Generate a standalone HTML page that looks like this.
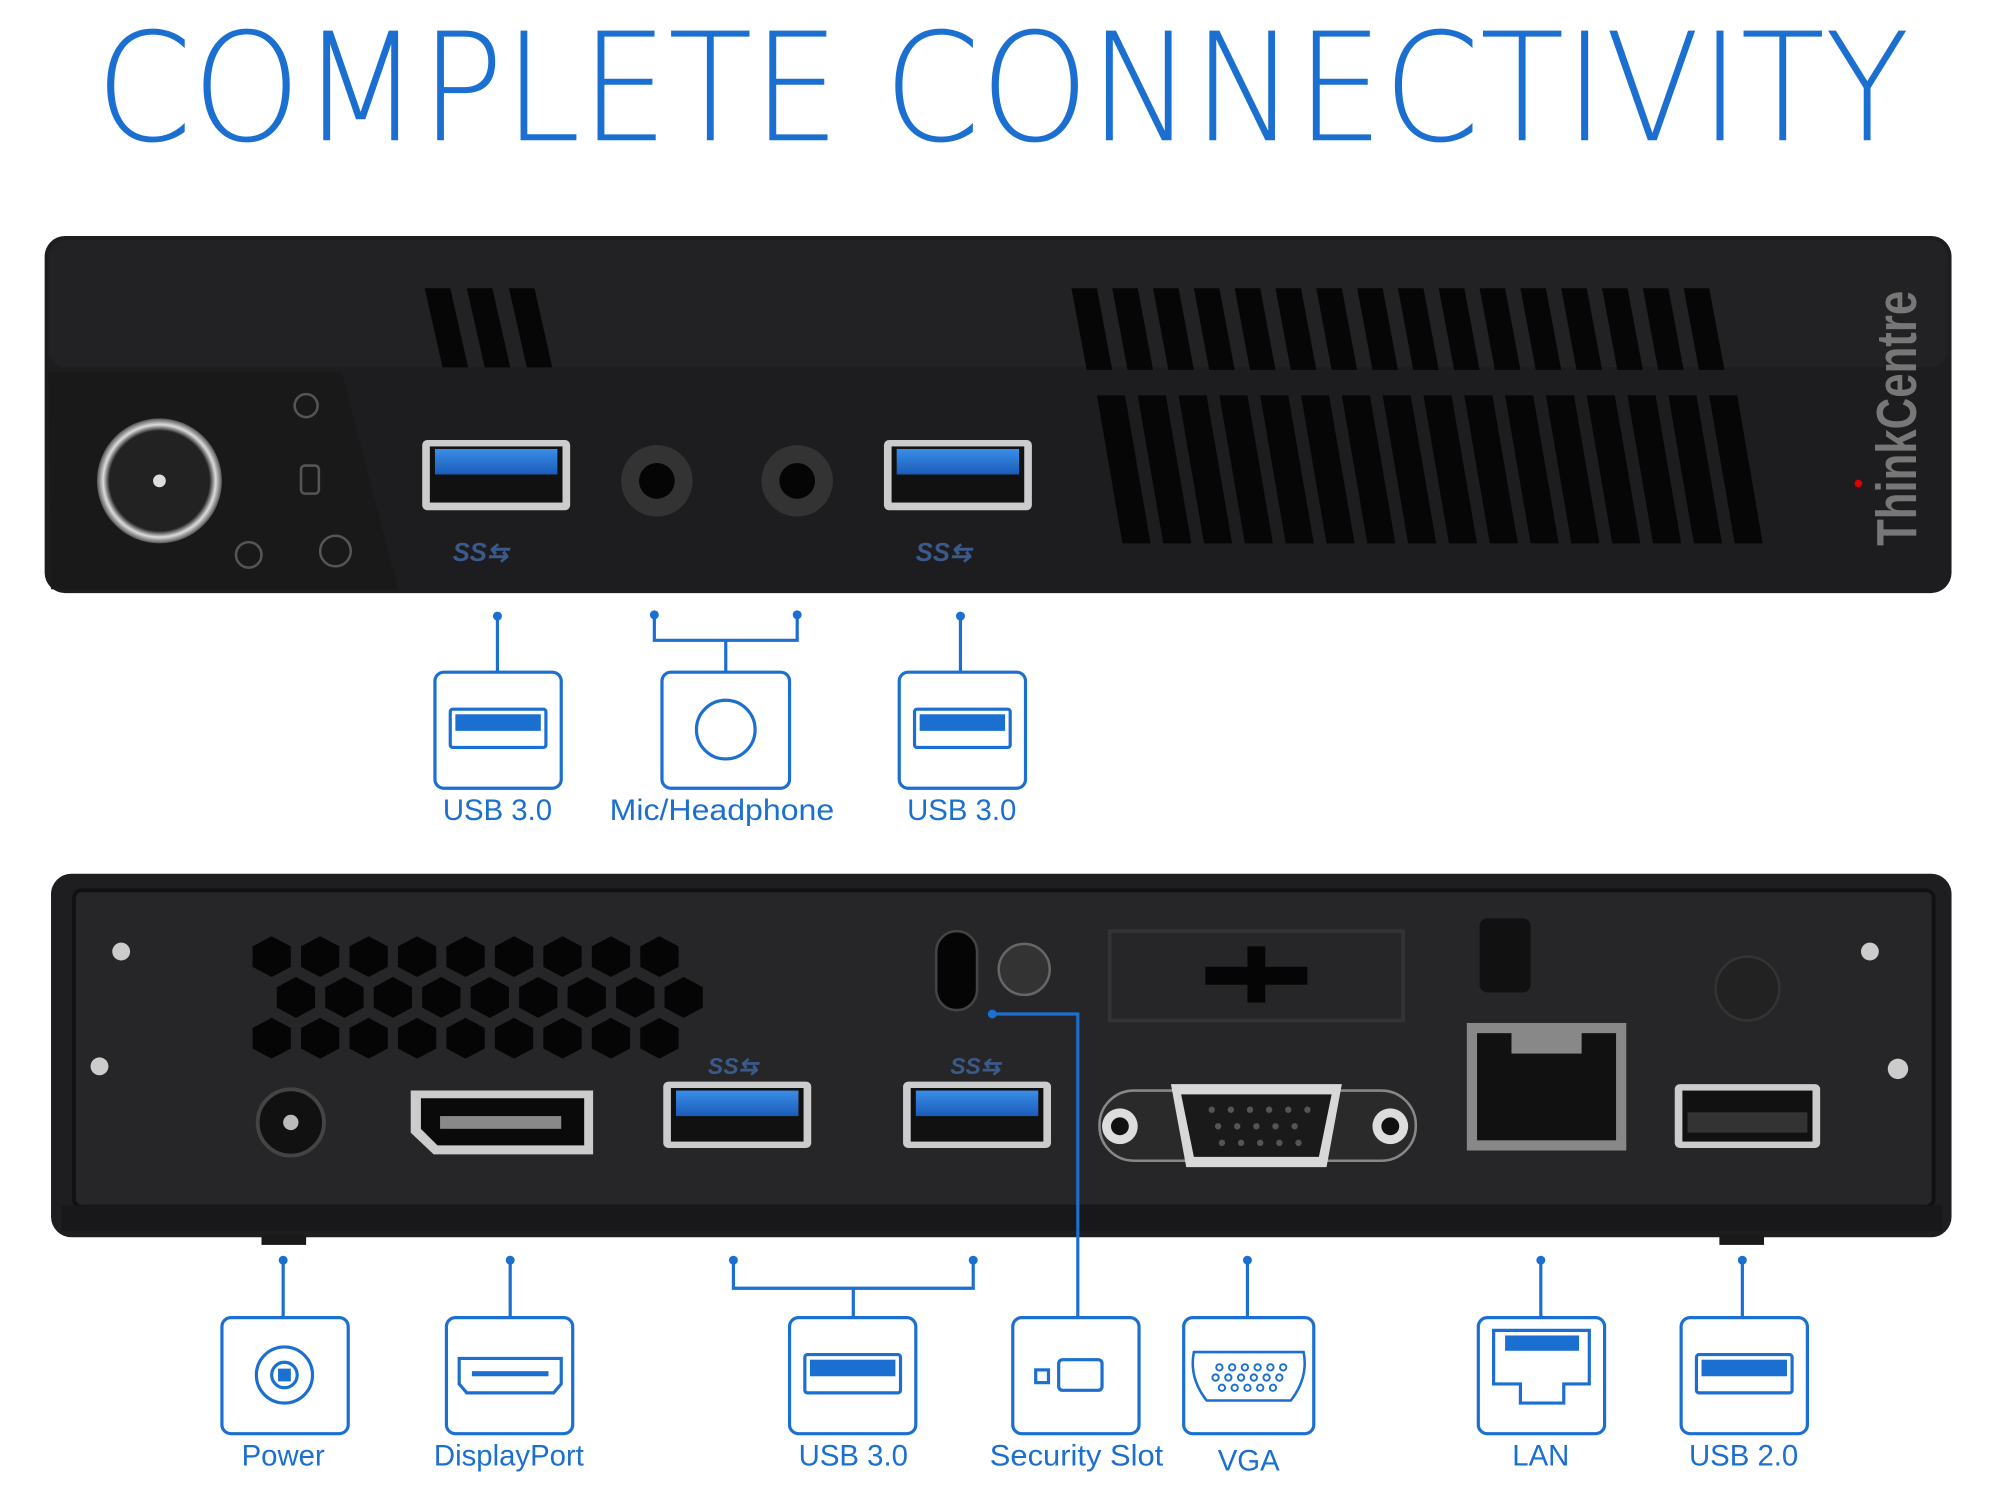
<!DOCTYPE html>
<html><head><meta charset="utf-8"><style>
html,body{margin:0;padding:0;background:#fff;}
svg{display:block;}
text{font-family:"Liberation Sans",sans-serif;}
.title{font-family:"DejaVu Sans ExtraLight","DejaVu Sans","Liberation Sans",sans-serif;font-weight:200;}
</style></head><body>
<svg width="2000" height="1500" viewBox="0 0 1568 1176" xmlns="http://www.w3.org/2000/svg">
<defs>
<linearGradient id="usbb" x1="0" y1="0" x2="0" y2="1"><stop offset="0" stop-color="#3a8ee8"/><stop offset="1" stop-color="#1a5cb8"/></linearGradient>
<radialGradient id="ring"><stop offset="0.8" stop-color="#222"/><stop offset="0.9" stop-color="#ddd"/><stop offset="1" stop-color="#555"/></radialGradient>
</defs>
<rect width="1568" height="1176" fill="#fff"/>
<text class="title" x="75" y="110" font-size="118" fill="#1a6fd0" textLength="1422" lengthAdjust="spacingAndGlyphs">COMPLETE CONNECTIVITY</text>

<!-- TOP DEVICE -->
<rect x="35" y="185" width="1495" height="280" rx="16" fill="#1d1d1f"/>
<rect x="38" y="188" width="1489" height="100" rx="14" fill="#222224"/>
<path d="M38 292 L268 292 L312 462 L40 462 Z" fill="#19191a"/>
<g fill="#060606">
<path d="M333 226h20l14 62h-20z"/><path d="M366 226h20l14 62h-20z"/><path d="M399 226h20l14 62h-20z"/>
</g>
<g fill="#060606">
<g id="r1"><path d="M840 226h20l12 64h-20z"/></g>
<use href="#r1" x="32"/><use href="#r1" x="64"/><use href="#r1" x="96"/><use href="#r1" x="128"/><use href="#r1" x="160"/><use href="#r1" x="192"/><use href="#r1" x="224"/><use href="#r1" x="256"/><use href="#r1" x="288"/><use href="#r1" x="320"/><use href="#r1" x="352"/><use href="#r1" x="384"/><use href="#r1" x="416"/><use href="#r1" x="448"/><use href="#r1" x="480"/>
<g id="r2"><path d="M860 310h22l20 116h-22z"/></g>
<use href="#r2" x="32"/><use href="#r2" x="64"/><use href="#r2" x="96"/><use href="#r2" x="128"/><use href="#r2" x="160"/><use href="#r2" x="192"/><use href="#r2" x="224"/><use href="#r2" x="256"/><use href="#r2" x="288"/><use href="#r2" x="320"/><use href="#r2" x="352"/><use href="#r2" x="384"/><use href="#r2" x="416"/><use href="#r2" x="448"/><use href="#r2" x="480"/>
</g>
<circle cx="125" cy="377" r="49" fill="url(#ring)"/>
<circle cx="125" cy="377" r="5" fill="#ddd"/>
<g stroke="#555" fill="none" stroke-width="2"><circle cx="240" cy="318" r="9"/><rect x="236" y="365" width="14" height="22" rx="3"/><circle cx="195" cy="435" r="10"/><circle cx="263" cy="432" r="12"/></g>
<g>
<rect x="331" y="345" width="116" height="55" rx="4" fill="#ccc"/><rect x="337" y="350" width="104" height="44" fill="#111"/><rect x="341" y="352" width="96" height="20" fill="url(#usbb)"/>
<rect x="693" y="345" width="116" height="55" rx="4" fill="#ccc"/><rect x="699" y="350" width="104" height="44" fill="#111"/><rect x="703" y="352" width="96" height="20" fill="url(#usbb)"/>
</g>
<circle cx="515" cy="377" r="28" fill="#333"/><circle cx="515" cy="377" r="14" fill="#050505"/>
<circle cx="625" cy="377" r="28" fill="#333"/><circle cx="625" cy="377" r="14" fill="#050505"/>
<g fill="#3a5a8a" font-size="20" font-style="italic" font-weight="bold"><text x="355" y="440">SS⇆</text><text x="718" y="440">SS⇆</text></g>
<text x="0" y="0" font-size="44" font-weight="bold" fill="#777" transform="translate(1502 428) rotate(-90)" textLength="200" lengthAdjust="spacingAndGlyphs">ThinkCentre</text>
<circle cx="1457" cy="379" r="3" fill="#d00"/>

<g stroke="#1a6fd0" stroke-width="2.5" fill="none">
<line x1="390" y1="483" x2="390" y2="527"/>
<path d="M513 482 V502 H625 V482 M569 502 V527"/>
<line x1="753" y1="483" x2="753" y2="527"/>
<rect x="341" y="527" width="99" height="91" rx="7" fill="#fff"/>
<rect x="519" y="527" width="100" height="91" rx="7" fill="#fff"/>
<rect x="705" y="527" width="99" height="91" rx="7" fill="#fff"/>
<rect x="353" y="556" width="75" height="30" rx="2"/>
<rect x="717" y="556" width="75" height="30" rx="2"/>
<circle cx="569" cy="572" r="23"/>
</g>
<g fill="#1a6fd0"><circle cx="390" cy="483" r="3.5"/><circle cx="513" cy="482" r="3.5"/><circle cx="625" cy="482" r="3.5"/><circle cx="753" cy="483" r="3.5"/>
<rect x="357" y="560" width="67" height="13"/><rect x="721" y="560" width="67" height="13"/></g>
<g fill="#1a6fd0" font-size="23" text-anchor="middle">
<text x="390" y="643">USB 3.0</text><text x="566" y="643" textLength="176" lengthAdjust="spacingAndGlyphs">Mic/Headphone</text><text x="754" y="643">USB 3.0</text>
</g>

<!-- BOTTOM DEVICE -->
<rect x="40" y="685" width="1490" height="285" rx="16" fill="#1e1e20"/>
<rect x="58" y="698" width="1458" height="248" rx="6" fill="#262628" stroke="#111" stroke-width="3"/>
<rect x="48" y="945" width="1475" height="20" fill="#18181a"/>
<g fill="#050505">
<g id="h1"><polygon points="198,742 213,734 228,742 228,758 213,766 198,758"/></g>
<use href="#h1" x="38"/><use href="#h1" x="76"/><use href="#h1" x="114"/><use href="#h1" x="152"/><use href="#h1" x="190"/><use href="#h1" x="228"/><use href="#h1" x="266"/><use href="#h1" x="304"/>
<use href="#h1" x="19" y="32"/><use href="#h1" x="57" y="32"/><use href="#h1" x="95" y="32"/><use href="#h1" x="133" y="32"/><use href="#h1" x="171" y="32"/><use href="#h1" x="209" y="32"/><use href="#h1" x="247" y="32"/><use href="#h1" x="285" y="32"/><use href="#h1" x="323" y="32"/>
<use href="#h1" x="0" y="64"/><use href="#h1" x="38" y="64"/><use href="#h1" x="76" y="64"/><use href="#h1" x="114" y="64"/><use href="#h1" x="152" y="64"/><use href="#h1" x="190" y="64"/><use href="#h1" x="228" y="64"/><use href="#h1" x="266" y="64"/><use href="#h1" x="304" y="64"/>
</g>
<g fill="#ccc"><circle cx="95" cy="746" r="7"/><circle cx="1466" cy="746" r="7"/><circle cx="78" cy="836" r="7"/><circle cx="1488" cy="838" r="8"/></g>
<rect x="734" y="730" width="32" height="62" rx="16" fill="#050505" stroke="#444" stroke-width="2"/>
<circle cx="803" cy="760" r="20" fill="#333" stroke="#666" stroke-width="2"/>
<path d="M870 730 H1100 V800 H870 Z" fill="none" stroke="#333" stroke-width="3"/>
<rect x="945" y="758" width="80" height="14" fill="#050505"/><rect x="978" y="742" width="14" height="44" fill="#050505"/>
<rect x="1160" y="720" width="40" height="58" rx="6" fill="#111"/>
<circle cx="1370" cy="775" r="25" fill="#222" stroke="#333" stroke-width="2"/>
<circle cx="228" cy="880" r="26" fill="#111" stroke="#444" stroke-width="3"/><circle cx="228" cy="880" r="6" fill="#bbb"/>
<path d="M322 855 H465 V905 H340 L322 888 Z" fill="#ccc"/><path d="M330 861 H458 V898 H343 L330 885 Z" fill="#0a0a0a"/>
<rect x="345" y="875" width="95" height="10" fill="#888"/>
<rect x="520" y="848" width="116" height="52" rx="4" fill="#ccc"/><rect x="526" y="853" width="104" height="42" fill="#111"/><rect x="530" y="855" width="96" height="20" fill="url(#usbb)"/>
<rect x="708" y="848" width="116" height="52" rx="4" fill="#ccc"/><rect x="714" y="853" width="104" height="42" fill="#111"/><rect x="718" y="855" width="96" height="20" fill="url(#usbb)"/>
<rect x="862" y="855" width="248" height="55" rx="27" fill="#2a2a2a" stroke="#888" stroke-width="2"/>
<circle cx="878" cy="883" r="14" fill="#ddd"/><circle cx="878" cy="883" r="7" fill="#111"/>
<circle cx="1090" cy="883" r="14" fill="#ddd"/><circle cx="1090" cy="883" r="7" fill="#111"/>
<path d="M918 850 H1052 L1040 915 H930 Z" fill="#d8d8d8"/>
<path d="M926 858 H1044 L1034 907 H936 Z" fill="#1a1a1a"/>
<g fill="#555"><circle cx="950" cy="870" r="2.5"/><circle cx="965" cy="870" r="2.5"/><circle cx="980" cy="870" r="2.5"/><circle cx="995" cy="870" r="2.5"/><circle cx="1010" cy="870" r="2.5"/><circle cx="1025" cy="870" r="2.5"/>
<circle cx="955" cy="883" r="2.5"/><circle cx="970" cy="883" r="2.5"/><circle cx="985" cy="883" r="2.5"/><circle cx="1000" cy="883" r="2.5"/><circle cx="1015" cy="883" r="2.5"/>
<circle cx="958" cy="896" r="2.5"/><circle cx="973" cy="896" r="2.5"/><circle cx="988" cy="896" r="2.5"/><circle cx="1003" cy="896" r="2.5"/><circle cx="1018" cy="896" r="2.5"/></g>
<rect x="1150" y="802" width="125" height="100" fill="#888"/><rect x="1158" y="810" width="109" height="84" fill="#111"/>
<rect x="1185" y="806" width="55" height="20" fill="#888"/>
<rect x="1313" y="850" width="114" height="50" rx="4" fill="#ccc"/><rect x="1319" y="855" width="102" height="40" fill="#111"/><rect x="1323" y="872" width="94" height="16" fill="#333"/>
<g fill="#3a5a8a" font-size="18" font-style="italic" font-weight="bold"><text x="555" y="842">SS⇆</text><text x="745" y="842">SS⇆</text></g>
<g fill="#1a1a1a"><rect x="205" y="968" width="35" height="8"/><rect x="1348" y="968" width="35" height="8"/></g>

<g stroke="#1a6fd0" stroke-width="2.5" fill="none">
<line x1="222" y1="988" x2="222" y2="1033"/>
<line x1="400" y1="988" x2="400" y2="1033"/>
<path d="M575 988 V1010 H763 V988 M669 1010 V1033"/>
<path d="M778 795 H845 V1033"/>
<line x1="978" y1="988" x2="978" y2="1033"/>
<line x1="1208" y1="988" x2="1208" y2="1033"/>
<line x1="1366" y1="988" x2="1366" y2="1033"/>
<rect x="174" y="1033" width="99" height="91" rx="7" fill="#fff"/>
<rect x="350" y="1033" width="99" height="91" rx="7" fill="#fff"/>
<rect x="619" y="1033" width="99" height="91" rx="7" fill="#fff"/>
<rect x="794" y="1033" width="99" height="91" rx="7" fill="#fff"/>
<rect x="928" y="1033" width="102" height="91" rx="7" fill="#fff"/>
<rect x="1159" y="1033" width="99" height="91" rx="7" fill="#fff"/>
<rect x="1318" y="1033" width="99" height="91" rx="7" fill="#fff"/>
<circle cx="223" cy="1078" r="22"/><circle cx="223" cy="1078" r="10"/>
<path d="M360 1065 H440 V1085 L434 1092 H366 L360 1085 Z"/>
<rect x="631" y="1062" width="75" height="30" rx="2"/>
<rect x="830" y="1066" width="34" height="24" rx="3"/><rect x="812" y="1074" width="10" height="10"/>
<path d="M936 1060 H1022 Q1026 1080 1012 1098 H946 Q932 1080 936 1060 Z" stroke-width="2"/>
<path d="M1171 1043 H1246 V1085 H1226 V1100 H1192 V1085 H1171 Z"/>
<rect x="1330" y="1062" width="75" height="30" rx="2"/>
</g>
<g fill="#1a6fd0"><circle cx="222" cy="988" r="3.5"/><circle cx="400" cy="988" r="3.5"/><circle cx="575" cy="988" r="3.5"/><circle cx="763" cy="988" r="3.5"/><circle cx="778" cy="795" r="3.5"/><circle cx="978" cy="988" r="3.5"/><circle cx="1208" cy="988" r="3.5"/><circle cx="1366" cy="988" r="3.5"/>
<rect x="635" y="1066" width="67" height="13"/><rect x="1334" y="1066" width="67" height="13"/>
<rect x="370" y="1075" width="60" height="4"/><rect x="1180" y="1047" width="58" height="12"/>
<rect x="218" y="1073" width="10" height="10"/>
</g>
<g fill="none" stroke="#1a6fd0" stroke-width="1.5">
<circle cx="956" cy="1072" r="2.5"/><circle cx="966" cy="1072" r="2.5"/><circle cx="976" cy="1072" r="2.5"/><circle cx="986" cy="1072" r="2.5"/><circle cx="996" cy="1072" r="2.5"/><circle cx="1006" cy="1072" r="2.5"/>
<circle cx="953" cy="1080" r="2.5"/><circle cx="963" cy="1080" r="2.5"/><circle cx="973" cy="1080" r="2.5"/><circle cx="983" cy="1080" r="2.5"/><circle cx="993" cy="1080" r="2.5"/><circle cx="1003" cy="1080" r="2.5"/>
<circle cx="958" cy="1088" r="2.5"/><circle cx="968" cy="1088" r="2.5"/><circle cx="978" cy="1088" r="2.5"/><circle cx="988" cy="1088" r="2.5"/><circle cx="998" cy="1088" r="2.5"/>
</g>
<g fill="#1a6fd0" font-size="23" text-anchor="middle">
<text x="222" y="1149">Power</text>
<text x="399" y="1149">DisplayPort</text>
<text x="669" y="1149">USB 3.0</text>
<text x="844" y="1149" textLength="136" lengthAdjust="spacingAndGlyphs">Security Slot</text>
<text x="979" y="1153">VGA</text>
<text x="1208" y="1149">LAN</text>
<text x="1367" y="1149">USB 2.0</text>
</g>
</svg>
</body></html>
